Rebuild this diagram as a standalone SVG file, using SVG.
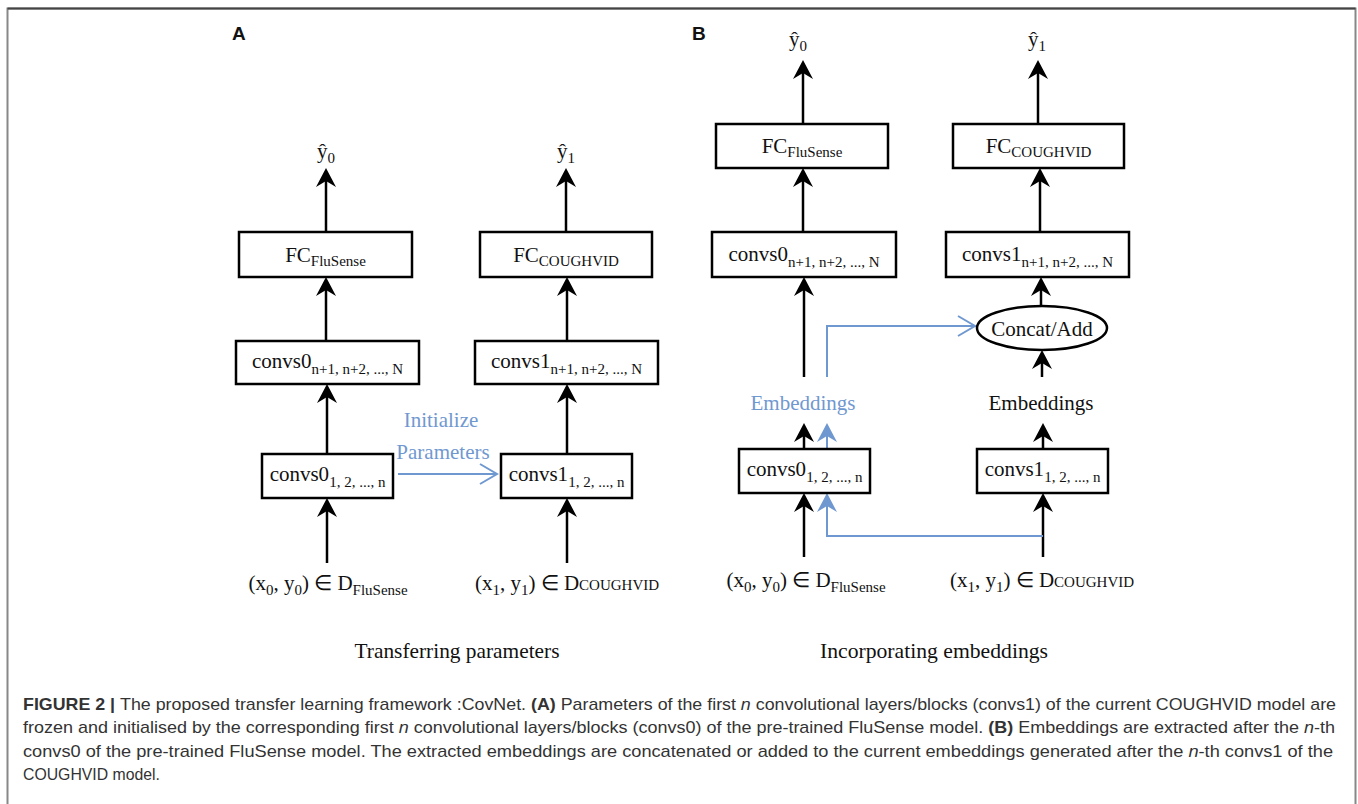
<svg xmlns="http://www.w3.org/2000/svg" width="1358" height="804" viewBox="0 0 1358 804">
<style>
.bx{fill:#fff;stroke:#000;stroke-width:2.5}
.ln{fill:none;stroke:#000;stroke-width:2.5}
.bl{fill:none;stroke:#7098d0;stroke-width:2}
.t{font-family:"Liberation Serif","Times New Roman",serif;font-size:21px;fill:#111}
.s{font-size:15px}
.bt{fill:#7098d0}
.pl{font-family:"Liberation Sans",Arial,sans-serif;font-weight:bold;font-size:19px;fill:#111}
.cap{font-family:"Liberation Sans",Arial,sans-serif;font-size:17px;fill:#333}
</style>
<defs>
<marker id="ah" markerUnits="userSpaceOnUse" markerWidth="24" markerHeight="24" refX="10" refY="10" orient="auto" overflow="visible"><path d="M20,10 L1,0 L7,10 L1,20 Z" fill="#000"/></marker>
<marker id="ahb" markerUnits="userSpaceOnUse" markerWidth="24" markerHeight="24" refX="10" refY="10" orient="auto" overflow="visible"><path d="M20,10 L1,0 L7,10 L1,20 Z" fill="#7098d0"/></marker>
<marker id="chev" markerUnits="userSpaceOnUse" markerWidth="20" markerHeight="24" refX="17" refY="10" orient="auto" overflow="visible"><path d="M0,0 L17,10 L0,20" fill="none" stroke="#7098d0" stroke-width="2"/></marker>
</defs>
<rect width="1358" height="804" fill="#fff"/>
<path d="M7.5,820 V8.5 H1355.5 V820" fill="none" stroke="#888" stroke-width="2"/>
<path d="M7.5,8.5 H1355.5" stroke="#444" stroke-width="2"/>

<text class="pl" x="232" y="40">A</text>
<text class="pl" x="692" y="40">B</text>

<g id="connectors">
<line class="ln" x1="326" y1="232" x2="326" y2="178" marker-end="url(#ah)"/>
<line class="ln" x1="326" y1="341" x2="326" y2="287" marker-end="url(#ah)"/>
<line class="ln" x1="327" y1="454" x2="327" y2="394" marker-end="url(#ah)"/>
<line class="ln" x1="327" y1="563" x2="327" y2="508" marker-end="url(#ah)"/>
<line class="ln" x1="566" y1="232" x2="566" y2="178" marker-end="url(#ah)"/>
<line class="ln" x1="567" y1="341" x2="567" y2="287" marker-end="url(#ah)"/>
<line class="ln" x1="567" y1="454" x2="567" y2="394" marker-end="url(#ah)"/>
<line class="ln" x1="567" y1="563" x2="567" y2="508" marker-end="url(#ah)"/>
<line class="bl" x1="398" y1="474" x2="497" y2="474" marker-end="url(#chev)"/>

<line class="ln" x1="803" y1="124" x2="803" y2="70" marker-end="url(#ah)"/>
<line class="ln" x1="803" y1="232" x2="803" y2="178" marker-end="url(#ah)"/>
<line class="ln" x1="1038" y1="124" x2="1038" y2="70" marker-end="url(#ah)"/>
<line class="ln" x1="1040" y1="232" x2="1040" y2="178" marker-end="url(#ah)"/>
<line class="ln" x1="1041" y1="306" x2="1041" y2="287" marker-end="url(#ah)"/>
<line class="ln" x1="1042" y1="377" x2="1042" y2="360" marker-end="url(#ah)"/>
<line class="ln" x1="804" y1="377" x2="804" y2="287" marker-end="url(#ah)"/>
<line class="ln" x1="804" y1="449" x2="804" y2="433" marker-end="url(#ah)"/>
<line class="ln" x1="1043" y1="449" x2="1043" y2="433" marker-end="url(#ah)"/>
<line class="ln" x1="804" y1="557" x2="804" y2="503" marker-end="url(#ah)"/>
<line class="ln" x1="1043" y1="557" x2="1043" y2="503" marker-end="url(#ah)"/>
<path class="bl" d="M827,449 V433" marker-end="url(#ahb)"/>
<path class="bl" d="M827,377 V326 H975" marker-end="url(#chev)"/>
<path class="bl" d="M1043,536 H827 V503" marker-end="url(#ahb)"/>
</g>

<g id="a-yhat0"><text class="t" x="326" y="158" text-anchor="middle">ŷ<tspan class="s" dy="5">0</tspan></text></g>
<g id="a-yhat1"><text class="t" x="566" y="158" text-anchor="middle">ŷ<tspan class="s" dy="5">1</tspan></text></g>
<g id="a-fc0"><rect class="bx" x="239" y="232" width="173" height="45"/><text class="t" x="325.5" y="262" text-anchor="middle">FC<tspan class="s" dy="4">FluSense</tspan></text></g>
<g id="a-fc1"><rect class="bx" x="480" y="232" width="172" height="45"/><text class="t" x="566" y="262" text-anchor="middle">FC<tspan class="s" dy="4">COUGHVID</tspan></text></g>
<g id="a-convs0N"><rect class="bx" x="236" y="341" width="183" height="43"/><text class="t" x="327.5" y="368" text-anchor="middle">convs0<tspan class="s" dy="6">n+1, n+2, ..., N</tspan></text></g>
<g id="a-convs1N"><rect class="bx" x="475" y="341" width="183" height="43"/><text class="t" x="566.5" y="368" text-anchor="middle">convs1<tspan class="s" dy="6">n+1, n+2, ..., N</tspan></text></g>
<g id="a-convs0n"><rect class="bx" x="262" y="454" width="131" height="44"/><text class="t" x="327.5" y="481" text-anchor="middle">convs0<tspan class="s" dy="6">1, 2, ..., n</tspan></text></g>
<g id="a-convs1n"><rect class="bx" x="501" y="454" width="131" height="44"/><text class="t" x="566.5" y="481" text-anchor="middle">convs1<tspan class="s" dy="6">1, 2, ..., n</tspan></text></g>
<g id="a-in0"><text class="t" x="328" y="590" text-anchor="middle">(x<tspan class="s" dy="5">0</tspan><tspan dy="-5">, y</tspan><tspan class="s" dy="5">0</tspan><tspan dy="-5">) ∈ D</tspan><tspan class="s" dy="5">FluSense</tspan></text></g>
<g id="a-in1"><text class="t" x="567" y="590" text-anchor="middle">(x<tspan class="s" dy="5">1</tspan><tspan dy="-5">, y</tspan><tspan class="s" dy="5">1</tspan><tspan dy="-5">) ∈ D</tspan><tspan class="s">COUGHVID</tspan></text></g>
<g id="a-init"><text class="t bt" x="441" y="427" text-anchor="middle">Initialize</text><text class="t bt" x="443" y="459" text-anchor="middle">Parameters</text></g>
<g id="a-title"><text class="t" x="457" y="658" text-anchor="middle" textLength="205" lengthAdjust="spacingAndGlyphs" style="font-size:22px">Transferring parameters</text></g>

<g id="b-yhat0"><text class="t" x="798" y="46" text-anchor="middle">ŷ<tspan class="s" dy="5">0</tspan></text></g>
<g id="b-yhat1"><text class="t" x="1037" y="46" text-anchor="middle">ŷ<tspan class="s" dy="5">1</tspan></text></g>
<g id="b-fc0"><rect class="bx" x="716" y="124" width="172" height="44"/><text class="t" x="802" y="153" text-anchor="middle">FC<tspan class="s" dy="4">FluSense</tspan></text></g>
<g id="b-fc1"><rect class="bx" x="953" y="124" width="171" height="44"/><text class="t" x="1038.5" y="153" text-anchor="middle">FC<tspan class="s" dy="4">COUGHVID</tspan></text></g>
<g id="b-convs0N"><rect class="bx" x="712" y="232" width="184" height="45"/><text class="t" x="804" y="261" text-anchor="middle">convs0<tspan class="s" dy="6">n+1, n+2, ..., N</tspan></text></g>
<g id="b-convs1N"><rect class="bx" x="946" y="232" width="183" height="45"/><text class="t" x="1037.5" y="261" text-anchor="middle">convs1<tspan class="s" dy="6">n+1, n+2, ..., N</tspan></text></g>
<g id="b-concat"><ellipse class="bx" cx="1042" cy="328" rx="65" ry="22"/><text class="t" x="1042" y="336" text-anchor="middle">Concat/Add</text></g>
<g id="b-emb0"><text class="t bt" x="803" y="410" text-anchor="middle">Embeddings</text></g>
<g id="b-emb1"><text class="t" x="1041" y="410" text-anchor="middle">Embeddings</text></g>
<g id="b-convs0n"><rect class="bx" x="739" y="449" width="131" height="44"/><text class="t" x="804.5" y="476" text-anchor="middle">convs0<tspan class="s" dy="6">1, 2, ..., n</tspan></text></g>
<g id="b-convs1n"><rect class="bx" x="977" y="449" width="131" height="44"/><text class="t" x="1042.5" y="476" text-anchor="middle">convs1<tspan class="s" dy="6">1, 2, ..., n</tspan></text></g>
<g id="b-in0"><text class="t" x="806" y="587" text-anchor="middle">(x<tspan class="s" dy="5">0</tspan><tspan dy="-5">, y</tspan><tspan class="s" dy="5">0</tspan><tspan dy="-5">) ∈ D</tspan><tspan class="s" dy="5">FluSense</tspan></text></g>
<g id="b-in1"><text class="t" x="1042" y="587" text-anchor="middle">(x<tspan class="s" dy="5">1</tspan><tspan dy="-5">, y</tspan><tspan class="s" dy="5">1</tspan><tspan dy="-5">) ∈ D</tspan><tspan class="s">COUGHVID</tspan></text></g>
<g id="b-title"><text class="t" x="934" y="658" text-anchor="middle" textLength="228" lengthAdjust="spacingAndGlyphs" style="font-size:22px">Incorporating embeddings</text></g>

<g id="caption">
<text class="cap" x="23" y="710" textLength="1313" lengthAdjust="spacingAndGlyphs"><tspan font-weight="bold">FIGURE 2 | </tspan>The proposed transfer learning framework :CovNet. <tspan font-weight="bold">(A)</tspan> Parameters of the first <tspan font-style="italic">n</tspan> convolutional layers/blocks (convs1) of the current COUGHVID model are</text>
<text class="cap" x="23" y="733" textLength="1312" lengthAdjust="spacingAndGlyphs">frozen and initialised by the corresponding first <tspan font-style="italic">n</tspan> convolutional layers/blocks (convs0) of the pre-trained FluSense model. <tspan font-weight="bold">(B)</tspan> Embeddings are extracted after the <tspan font-style="italic">n</tspan>-th</text>
<text class="cap" x="23" y="757" textLength="1310" lengthAdjust="spacingAndGlyphs">convs0 of the pre-trained FluSense model. The extracted embeddings are concatenated or added to the current embeddings generated after the <tspan font-style="italic">n</tspan>-th convs1 of the</text>
<text class="cap" x="23" y="780" textLength="137" lengthAdjust="spacingAndGlyphs">COUGHVID model.</text>
</g>
</svg>
